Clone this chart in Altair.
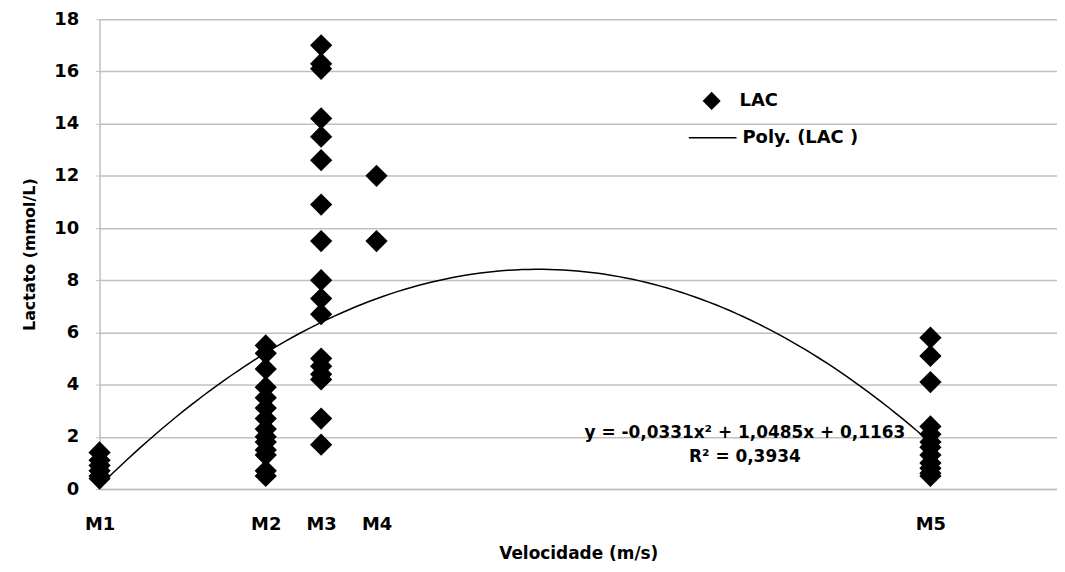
import altair as alt
import pandas as pd

# x positions of the measurement moments and their labels
moment_labels = ["M1", "M2", "M3", "M4", "M5"]
moment_x = [0, 6, 8, 10, 30]

# lactate values read at each moment
lac_m1 = [1.4, 1.1, 0.9, 0.7, 0.5, 0.4]
lac_m2 = [5.5, 5.2, 4.6, 3.9, 3.5, 3.1, 2.7, 2.3, 2.0, 1.8, 1.5, 1.3, 0.7, 0.5]
lac_m3 = [17.0, 16.3, 16.1, 14.2, 13.5, 12.6, 10.9, 9.5, 8.0, 7.3, 6.7, 5.0, 4.7, 4.4, 4.2, 2.7, 1.7]
lac_m4 = [12.0, 9.5]
lac_m5 = [5.8, 5.1, 4.1, 2.4, 2.1, 1.8, 1.6, 1.3, 1.0, 0.8, 0.6, 0.5]

# polynomial trendline coefficients (x^2, x, constant) shown in the chart
poly_coef = [-0.0331, 1.0485, 0.1163]
eq_lines = ["y = -0,0331x² + 1,0485x + 0,1163", "R² = 0,3934"]

y_ticks = [0, 2, 4, 6, 8, 10, 12, 14, 16, 18]

rows = []
for xv, vals in zip(moment_x, [lac_m1, lac_m2, lac_m3, lac_m4, lac_m5]):
    for v in vals:
        rows.append({"x": xv, "lac": v, "serie": "LAC"})
df = pd.DataFrame(rows)

FONT = "DejaVu Sans"
label_map = "{" + ",".join(f"'{x}':'{l}'" for x, l in zip(moment_x, moment_labels)) + "}"

xscale = alt.Scale(domain=[0, 34.57], nice=False, zero=False)
yscale = alt.Scale(domain=[0, 18], nice=False)

x_axis = alt.Axis(values=moment_x, labelExpr=f"{label_map}[datum.value + '']",
                  title="Velocidade (m/s)", grid=False, ticks=False,
                  labelFlush=False,
                  domainColor="#c0c0c0", domainWidth=1.5,
                  labelFont=FONT, labelFontSize=18, labelFontWeight="bold",
                  labelColor="black", labelPadding=27,
                  titleFont=FONT, titleFontSize=17, titleFontWeight="bold",
                  titleColor="black", titlePadding=12)
y_axis = alt.Axis(values=y_ticks, title="Lactato (mmol/L)", grid=True,
                  gridColor="#c0c0c0", gridWidth=1.5,
                  domainColor="#c0c0c0", domainWidth=1.5,
                  tickColor="#c0c0c0", tickSize=4,
                  labelFont=FONT, labelFontSize=18, labelFontWeight="bold",
                  labelColor="black", labelPadding=17,
                  titleFont=FONT, titleFontSize=16, titleFontWeight="bold",
                  titleColor="black", titlePadding=16)

points = alt.Chart(df).mark_point(filled=True, opacity=1, color="black", size=500).encode(
    x=alt.X("x:Q", scale=xscale, axis=x_axis),
    y=alt.Y("lac:Q", scale=yscale, axis=y_axis),
    shape=alt.Shape("serie:N", scale=alt.Scale(domain=["LAC"], range=["diamond"]),
                    legend=alt.Legend(title=None, orient="none", legendX=605, legendY=72,
                                      symbolSize=330, symbolFillColor="black",
                                      symbolStrokeColor="black", padding=0,
                                      labelFont=FONT, labelFontSize=18,
                                      labelFontWeight="bold", labelOffset=18)),
)

curve = alt.Chart(alt.sequence(0, 30.01, 0.25, as_="x")).transform_calculate(
    lac=f"{poly_coef[0]}*datum.x*datum.x + {poly_coef[1]}*datum.x + {poly_coef[2]}",
    serie='"Poly. (LAC )"',
).mark_line(strokeWidth=1.5).encode(
    x=alt.X("x:Q", scale=xscale),
    y=alt.Y("lac:Q", scale=yscale),
    color=alt.Color("serie:N", scale=alt.Scale(domain=["Poly. (LAC )"], range=["black"]),
                    legend=alt.Legend(title=None, orient="none", legendX=591, legendY=94,
                                      symbolType="stroke", symbolSize=2300,
                                      symbolStrokeWidth=1.5, padding=0,
                                      labelFont=FONT, labelFontSize=18,
                                      labelFontWeight="bold", labelOffset=5)),
)

eq_df = pd.DataFrame({"x": [23.3, 23.3], "lac": [2.13, 1.22], "t": eq_lines})
eq = alt.Chart(eq_df).mark_text(font=FONT, fontSize=17, fontWeight="bold",
                                 color="black", align="center", baseline="middle").encode(
    x=alt.X("x:Q", scale=xscale), y=alt.Y("lac:Q", scale=yscale), text="t:N")

chart = alt.layer(curve, points, eq).properties(
    width=962, height=472,
    autosize=alt.AutoSizeParams(type="none"),
    padding={"left": 92, "top": 10, "right": 0, "bottom": 72},
    background="white",
).configure_view(stroke=None)

chart.save("out.html", embed_options={"renderer": "svg", "actions": False})
